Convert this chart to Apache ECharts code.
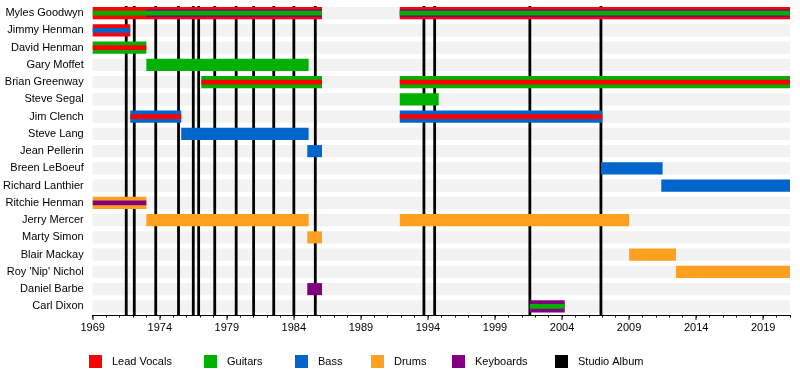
<!DOCTYPE html>
<html><head><meta charset="utf-8">
<script src="https://cdn.jsdelivr.net/npm/echarts@6/dist/echarts.min.js"></script>
<style>html,body{margin:0;padding:0;background:#fff}#c{width:800px;height:391px}</style>
</head><body><div id="c"></div>
<script>
const members = ['Myles Goodwyn','Jimmy Henman','David Henman','Gary Moffet','Brian Greenway','Steve Segal','Jim Clench','Steve Lang','Jean Pellerin','Breen LeBoeuf','Richard Lanthier','Ritchie Henman','Jerry Mercer','Marty Simon','Blair Mackay',"Roy 'Nip' Nichol",'Daniel Barbe','Carl Dixon'];
const roles = ['Lead Vocals','Guitars','Bass','Drums','Keyboards'];
const roleColors = ['#ff0000','#00b000','#0066cc','#ffa020','#800080'];
const albumYears = [1971.5,1972.1,1973.7,1975.4,1976.5,1976.9,1978.1,1979.7,1981.0,1982.5,1984.0,1985.6,1993.7,1994.5,2001.6,2006.9];
const tickYears = [1969,1974,1979,1984,1989,1994,1999,2004,2009,2014,2019];
const yearStart = 1969, yearEnd = 2021;
// [member, from, till, role, rank (0 = main role, 1 = second, 2 = third)]
const stints = [
  ['Myles Goodwyn',1969,1986.1,'Lead Vocals',0],
  ['Myles Goodwyn',1991.9,2021,'Lead Vocals',0],
  ['Myles Goodwyn',1973.0,1986.1,'Keyboards',1],
  ['Myles Goodwyn',1991.9,2021,'Keyboards',1],
  ['Myles Goodwyn',1969,1986.1,'Guitars',2],
  ['Myles Goodwyn',1991.9,2021,'Guitars',2],
  ['Jimmy Henman',1969,1971.8,'Lead Vocals',0],
  ['Jimmy Henman',1969,1971.8,'Bass',2],
  ['David Henman',1969,1973.0,'Guitars',0],
  ['David Henman',1969,1973.0,'Lead Vocals',2],
  ['Gary Moffet',1973.0,1985.1,'Guitars',0],
  ['Brian Greenway',1977.1,1986.1,'Guitars',0],
  ['Brian Greenway',1991.9,2021,'Guitars',0],
  ['Brian Greenway',1977.1,1986.1,'Lead Vocals',2],
  ['Brian Greenway',1991.9,2021,'Lead Vocals',2],
  ['Steve Segal',1991.9,1994.8,'Guitars',0],
  ['Jim Clench',1971.8,1975.6,'Bass',0],
  ['Jim Clench',1991.9,2007.0,'Bass',0],
  ['Jim Clench',1971.8,1975.6,'Lead Vocals',2],
  ['Jim Clench',1991.9,2007.0,'Lead Vocals',2],
  ['Steve Lang',1975.6,1985.1,'Bass',0],
  ['Jean Pellerin',1985.0,1986.1,'Bass',0],
  ['Breen LeBoeuf',2006.9,2011.5,'Bass',0],
  ['Richard Lanthier',2011.4,2021,'Bass',0],
  ['Ritchie Henman',1969,1973.0,'Drums',0],
  ['Ritchie Henman',1969,1973.0,'Keyboards',2],
  ['Jerry Mercer',1973.0,1985.1,'Drums',0],
  ['Jerry Mercer',1991.9,2009.0,'Drums',0],
  ['Marty Simon',1985.0,1986.1,'Drums',0],
  ['Blair Mackay',2009.0,2012.5,'Drums',0],
  ["Roy 'Nip' Nichol",2012.5,2021,'Drums',0],
  ['Daniel Barbe',1985.0,1986.1,'Keyboards',0],
  ['Carl Dixon',2001.6,2004.2,'Keyboards',0],
  ['Carl Dixon',2001.6,2004.2,'Guitars',2]
];

const rankFrac = [0.70, 0.45, 0.28];
const FONT = "'Liberation Sans', Arial, sans-serif";
const chart = echarts.init(document.getElementById('c'), null, {renderer:'canvas'});

const stintData = stints.map(s => [members.indexOf(s[0]), s[1], s[2], roles.indexOf(s[3]), s[4]]);
const bandData = members.map((m, i) => [i, yearStart, yearEnd]);
const albumData = albumYears.map(y => [y, 0]);
const tickData = tickYears.map(y => [y, members.length - 1]);

const legendNames = roles.concat(['Studio Album']);
const legendLefts = [84, 199, 290, 366, 447, 550];

const series = [
  {
    type:'custom', name:'bands', z:1, silent:true,
    encode:{x:[1,2], y:0}, data: bandData,
    renderItem(params, api){
      const a = api.coord([api.value(1), api.value(0)]);
      const b = api.coord([api.value(2), api.value(0)]);
      const h = api.size([0,1])[1] * 0.70;
      return {type:'rect', shape:{x:a[0], y:a[1]-h/2, width:b[0]-a[0], height:h}, style:{fill:'#f2f2f2'}};
    }
  },
  {
    type:'custom', name:'Studio Album', z:2, silent:true,
    itemStyle:{color:'#000'},
    encode:{x:0, y:1}, data: albumData,
    renderItem(params, api){
      const bandH = api.size([0,1])[1];
      const top = api.coord([api.value(0), 0]);
      const bot = api.coord([api.value(0), members.length - 1]);
      const y0 = top[1] - bandH*0.41, y1 = bot[1] + bandH/2;
      return {type:'rect', shape:{x:top[0]-1.4, y:y0, width:2.8, height:y1-y0}, style:{fill:'#000'}};
    }
  },
  {
    type:'custom', name:'members', z:3, silent:true,
    encode:{x:[1,2], y:0}, data: stintData,
    renderItem(params, api){
      const row = api.value(0);
      const a = api.coord([api.value(1), row]);
      const b = api.coord([api.value(2), row]);
      const h = api.size([0,1])[1] * rankFrac[api.value(4)];
      return {type:'rect', shape:{x:a[0], y:a[1]-h/2, width:b[0]-a[0], height:h}, style:{fill:roleColors[api.value(3)]}};
    }
  },
  {
    type:'custom', name:'majorTicks', z:4, silent:true,
    encode:{x:0, y:1}, data: tickData,
    renderItem(params, api){
      const bandH = api.size([0,1])[1];
      const p = api.coord([api.value(0), api.value(1)]);
      const y = p[1] + bandH/2;
      return {type:'rect', shape:{x:Math.round(p[0])-0.5, y:y, width:1, height:5}, style:{fill:'#000'}};
    }
  }
];
roles.forEach((r, i) => {
  series.push({type:'custom', name:r, data:[], itemStyle:{color:roleColors[i]}, renderItem(){ return null; }});
});

chart.setOption({
  animation:false,
  backgroundColor:'#fff',
  grid:{left:91, right:10, top:4.5, bottom:76},
  xAxis:{
    type:'value', min:yearStart, max:yearEnd, interval:1,
    axisLine:{show:true, lineStyle:{color:'#000', width:1}},
    axisTick:{show:true, length:2.5, lineStyle:{color:'#000'}},
    splitLine:{show:false},
    axisLabel:{
      fontFamily:FONT, fontSize:11, color:'#000', margin:7,
      formatter: v => tickYears.includes(v) ? String(v) : ''
    }
  },
  yAxis:{
    type:'category', inverse:true, data:members,
    axisLine:{show:false}, axisTick:{show:false}, splitLine:{show:false},
    axisLabel:{fontFamily:FONT, fontSize:11, color:'#000', margin:9}
  },
  legend: legendNames.map((n, i) => ({
    data:[n], left:legendLefts[i], top:350, orient:'horizontal',
    itemWidth:13, itemHeight:13, icon:'rect', selectedMode:false,
    textStyle:{fontFamily:FONT, fontSize:11, color:'#000', padding:[0,0,0,5]}
  })),
  series: series
});
</script></body></html>
